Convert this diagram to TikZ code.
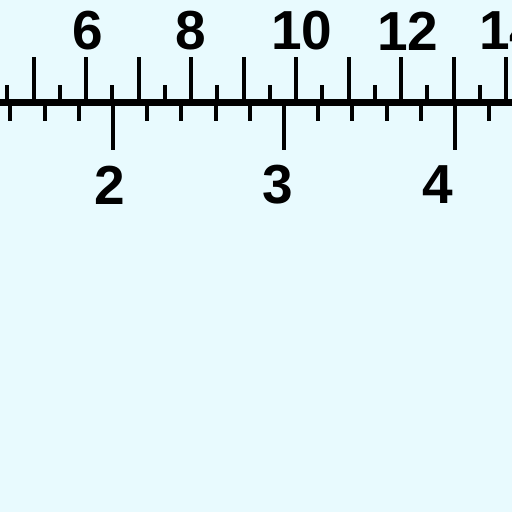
\documentclass[tikz,border=0pt]{standalone}
\usepackage{fontspec}
\setmainfont{Liberation Sans}
\definecolor{bg}{RGB}{232,250,254}
\begin{document}
\begin{tikzpicture}[x=1pt,y=-1pt,
  tick/.style={line width=4pt},
  lbl/.style={inner sep=0pt, font=\fontsize{55}{60}\selectfont\bfseries}]
\useasboundingbox (0,0) rectangle (512,512);
\fill[bg] (0,0) rectangle (512,512);
\begin{scope}
\clip (0,0) rectangle (512,512);
% axis
\draw[line width=7.5pt] (-10,102.5) -- (522,102.5);
% top scale: long ticks
\foreach \c in {4,...,14} {
  \draw[tick] ({86+52.5*(\c-6)},57) -- ({86+52.5*(\c-6)},102);
}
% top scale: short ticks
\foreach \c in {4,...,14} {
  \draw[tick] ({86+52.5*(\c-5.5)},85) -- ({86+52.5*(\c-5.5)},102);
}
% bottom scale: minor ticks
\foreach \k in {-4,...,12} {
  \draw[tick] ({113+34.2*\k},103) -- ({113+34.2*\k},121);
}
% bottom scale: major ticks
\foreach \k in {0,5,10} {
  \draw[tick] ({113+34.2*\k},103) -- ({113+34.2*\k},150);
}
% labels
\node[lbl] (t6)  at (88,31) {6};
\node[lbl] (t8)  at (191,31) {8};
\node[lbl] (t10) at (302,31) {10};
\node[lbl] (t12) at (408,31) {12};
\node[lbl] (t14) at (510,31) {14};
\node[lbl] (b2)  at (110,185) {2};
\node[lbl] (b3)  at (278,185) {3};
\node[lbl] (b4)  at (438,185) {4};
\end{scope}
\end{tikzpicture}
\end{document}
